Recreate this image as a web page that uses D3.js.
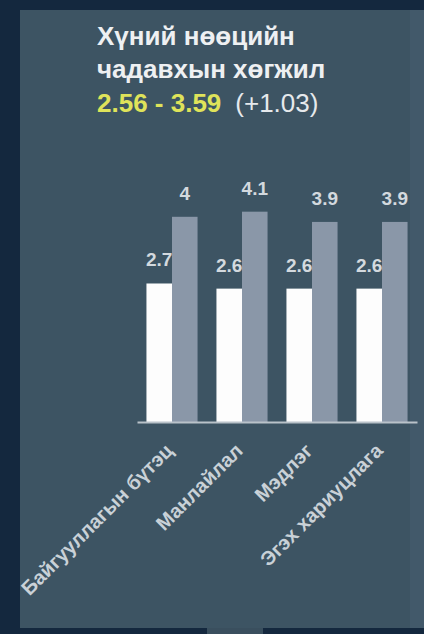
<!DOCTYPE html>
<html>
<head>
<meta charset="utf-8">
<script src="https://cdn.jsdelivr.net/npm/d3@7"></script>
<style>
    html, body { margin: 0; padding: 0; background: #14283e; }
    svg { display: block; font-family: "Liberation Sans", Arial, sans-serif; }
</style>
</head>
<body>
<svg id="chart-svg" width="424" height="634"></svg>
<script>
// Ангилал ба утгууд
const categories = ["Байгууллагын бүтэц", "Манлайлал", "Мэдлэг", "Эгэх хариуцлага"];
const before = [2.7, 2.6, 2.6, 2.6];
const after = [4, 4.1, 3.9, 3.9];
const titleLines = ["Хүний нөөцийн", "чадавхын хөгжил"];
const rangeFrom = "2.56";
const rangeTo = "3.59";
const rangeDiff = "(+1.03)";

const SVG_ID = "chart-svg";
const W = 424, H = 634;
const svg = d3.select(`#${SVG_ID}`);

// panel (dark frame around the slide)
svg.append("rect").attr("x", 0).attr("y", 0).attr("width", W).attr("height", H).attr("fill", "#14283e");
svg.append("rect").attr("x", 20).attr("y", 10).attr("width", W - 20).attr("height", 618).attr("fill", "#3d5463");
svg.append("rect").attr("x", 410).attr("y", 10).attr("width", 14).attr("height", 618).attr("fill", "#42596a");
svg.append("rect").attr("x", 207).attr("y", 628).attr("width", 56).attr("height", 6).attr("fill", "#3a4f5e");

// title
const title = svg.append("g").attr("fill", "#eef0f2").style("font-weight", "bold");
title.selectAll("text")
    .data(titleLines)
    .enter()
    .append("text")
    .attr("x", 97)
    .attr("y", (d, i) => 45 + i * 33)
    .style("font-size", "26px")
    .text(d => d);

const sub = svg.append("text")
    .attr("x", 97)
    .attr("y", 112)
    .style("font-size", "26px");
sub.append("tspan").attr("fill", "#dfe35a").style("font-weight", "bold").text(rangeFrom + " - " + rangeTo);
sub.append("tspan").attr("fill", "#e6e9ec").attr("dx", 14).text(rangeDiff);

// scales
const x = d3.scaleBand().domain(categories).range([137, 417]).paddingInner(0.27).paddingOuter(0.135);
const xs = d3.scaleBand().domain(["before", "after"]).range([0, x.bandwidth()]);
const y = d3.scaleLinear().domain([0, 5]).range([422, 165.5]);

const groups = categories.map((c, i) => ({ c, v: [{ k: "before", v: before[i] }, { k: "after", v: after[i] }] }));
const colors = { before: "#fdfdfd", after: "#8a97a8" };

const g = svg.append("g")
            .selectAll(".grp")
            .data(groups)
            .enter()
            .append("g")
            .attr("class", "grp")
            .attr("transform", d => `translate(${x(d.c)},0)`);

g.selectAll("rect")
    .data(d => d.v)
    .enter()
    .append("rect")
    .attr("x", d => xs(d.k))
    .attr("y", d => y(d.v))
    .attr("width", xs.bandwidth())
    .attr("height", d => y(0) - y(d.v))
    .attr("fill", d => colors[d.k]);

// value labels
g.selectAll(".val")
    .data(d => d.v)
    .enter()
    .append("text")
    .attr("class", "val")
    .attr("x", d => xs(d.k) + xs.bandwidth() / 2)
    .attr("y", d => y(d.v) - 17)
    .attr("text-anchor", "middle")
    .attr("fill", "#d3d9de")
    .style("font-size", "19px")
    .style("font-weight", "bold")
    .text(d => d.v);

// baseline
svg.append("g")
    .attr("transform", `translate(0,${y(0)})`)
    .call(d3.axisBottom(x).tickSize(0).tickFormat(""))
    .call(a => a.select(".domain").attr("stroke", "#b9c2c9").attr("stroke-width", 2));

// category labels
svg.append("g")
    .selectAll(".cat")
    .data(categories)
    .enter()
    .append("text")
    .attr("class", "cat")
    .attr("transform", d => `translate(${x(d) + x.bandwidth() / 2 + 2},${y(0) + 30}) rotate(-45)`)
    .attr("text-anchor", "end")
    .attr("fill", "#c9d1d7")
    .style("font-size", "20px")
    .style("font-weight", "bold")
    .text(d => d);
</script>
</body>
</html>
